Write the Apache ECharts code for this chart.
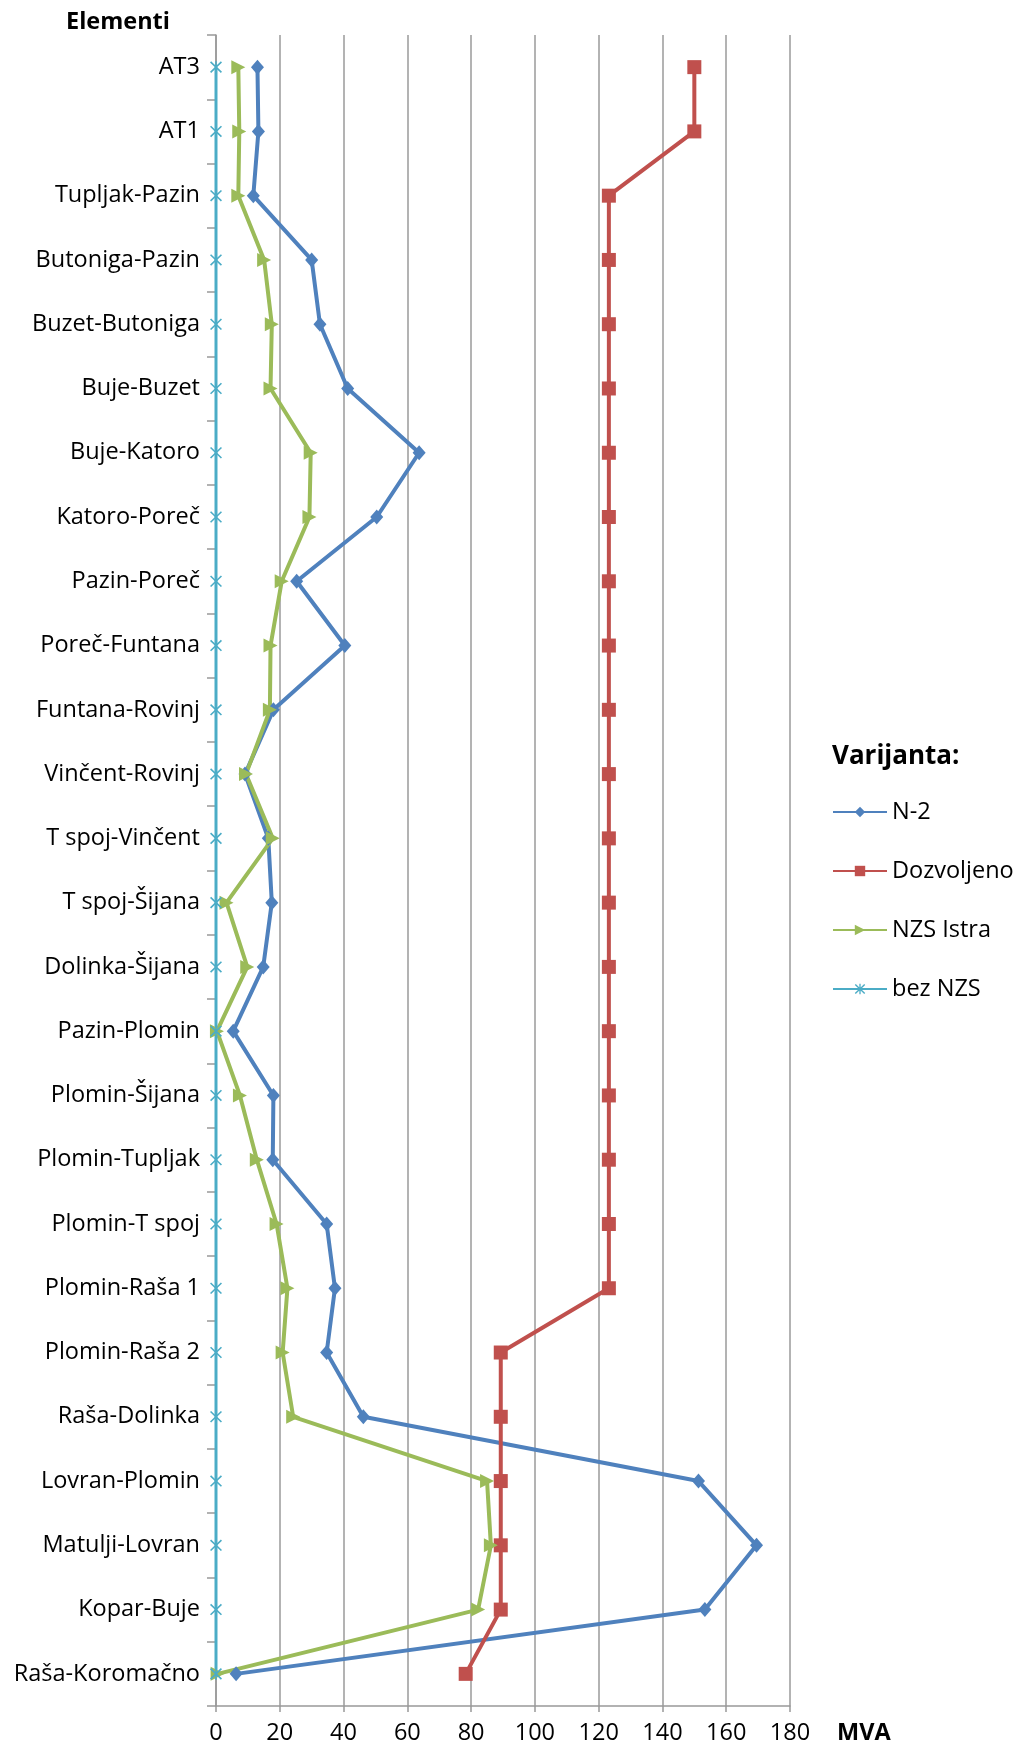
<!DOCTYPE html>
<html>
<head>
<meta charset="utf-8">
<script src="https://cdn.jsdelivr.net/npm/echarts@6.0.0/dist/echarts.min.js"></script>
<style>
  html, body { margin: 0; padding: 0; background: #fff; }
  #chart { width: 1024px; height: 1751px; }
</style>
</head>
<body>
<div id="chart"></div>
<script>
// elementi mreže (odozgo prema dolje)
var categories = ['AT3', 'AT1', 'Tupljak-Pazin', 'Butoniga-Pazin', 'Buzet-Butoniga', 'Buje-Buzet',
  'Buje-Katoro', 'Katoro-Poreč', 'Pazin-Poreč', 'Poreč-Funtana', 'Funtana-Rovinj', 'Vinčent-Rovinj',
  'T spoj-Vinčent', 'T spoj-Šijana', 'Dolinka-Šijana', 'Pazin-Plomin', 'Plomin-Šijana', 'Plomin-Tupljak',
  'Plomin-T spoj', 'Plomin-Raša 1', 'Plomin-Raša 2', 'Raša-Dolinka', 'Lovran-Plomin', 'Matulji-Lovran',
  'Kopar-Buje', 'Raša-Koromačno'];

// opterećenja u MVA
var n2 = [13, 13.3, 11.7, 30, 32.6, 41.3, 63.7, 50.4, 25.3, 40.4, 18, 9.1, 16.4, 17.5, 14.8, 5.4,
  18, 17.8, 34.7, 37.3, 34.7, 46.2, 151.3, 169.5, 153.3, 6.3];
var dozvoljeno = [150, 150, 123.2, 123.2, 123.2, 123.2, 123.2, 123.2, 123.2, 123.2, 123.2, 123.2,
  123.2, 123.2, 123.2, 123.2, 123.2, 123.2, 123.2, 123.2, 89.3, 89.3, 89.3, 89.3, 89.3, 78.3];
var nzsIstra = [7, 7.3, 7, 15.1, 17.5, 17.1, 29.7, 29.3, 20.6, 17.1, 16.9, 9.4, 17.8, 3.3, 9.8, 0.3,
  7.5, 12.8, 19, 22.4, 20.9, 24.2, 85, 86.2, 82.2, 0.5];
var bezNzs = [0, 0, 0, 0, 0, 0, 0, 0, 0, 0, 0, 0, 0, 0, 0, 0, 0, 0, 0, 0, 0, 0, 0, 0, 0, 0];

var xTicks = [0, 20, 40, 60, 80, 100, 120, 140, 160, 180];

var font = '"Open Sans", "Noto Sans", sans-serif';
var fs = 23.5;
// zvjezdica kao u Excelu
var asterisk = 'path://M4.4 0L5.6 0L5.6 10L4.4 10Z M1.1 0.2L9.8 8.9L8.9 9.8L0.2 1.1Z M8.9 0.2L9.8 1.1L1.1 9.8L0.2 8.9Z';

var myChart = echarts.init(document.getElementById('chart'));
var option = {
  animation: false,
  textStyle: { fontFamily: font },
  grid: { left: 216, right: 234, top: 35, bottom: 45, containLabel: false },
  legend: {
    orient: 'vertical',
    left: 832,
    top: 800,
    padding: 0,
    itemWidth: 54,
    itemHeight: 13,
    itemGap: 35,
    textStyle: { fontSize: fs, color: '#000', fontFamily: font, lineHeight: 21 },
    data: ['N-2', 'Dozvoljeno', 'NZS Istra', 'bez NZS']
  },
  graphic: [
    { type: 'text', left: 66, top: 10, style: { text: 'Elementi', font: 'bold 23.5px ' + font, fill: '#000' } },
    { type: 'text', left: 837, top: 1721, style: { text: 'MVA', font: 'bold 23.5px ' + font, fill: '#000' } },
    { type: 'text', left: 832, top: 744, style: { text: 'Varijanta:', font: 'bold 26px ' + font, fill: '#000' } }
  ],
  xAxis: {
    type: 'value',
    min: 0,
    max: 180,
    interval: 20,
    axisLine: { show: true, lineStyle: { color: '#999', width: 1.5 } },
    axisTick: { show: true, length: 6, lineStyle: { color: '#999', width: 1.5 } },
    axisLabel: {
      margin: 15, fontSize: fs, color: '#000', fontFamily: font,
      formatter: function (v) { return xTicks.indexOf(v) >= 0 ? String(v) : ''; }
    },
    splitLine: { show: true, lineStyle: { color: '#9a9a9a', width: 1.5 } }
  },
  yAxis: {
    type: 'category',
    inverse: true,
    data: categories,
    boundaryGap: true,
    axisLine: { show: true, lineStyle: { color: '#999', width: 1.5 } },
    axisTick: { show: true, length: 9, alignWithLabel: false, lineStyle: { color: '#999', width: 1.5 } },
    axisLabel: { margin: 16, fontSize: fs, color: '#000', fontFamily: font, interval: 0, padding: [8, 0, 0, 0] },
    splitLine: { show: false }
  },
  series: [
    {
      name: 'N-2', type: 'line', data: n2,
      symbol: 'diamond', symbolSize: [13, 15],
      itemStyle: { color: '#4F81BD' },
      lineStyle: { color: '#4F81BD', width: 4 }
    },
    {
      name: 'Dozvoljeno', type: 'line', data: dozvoljeno,
      symbol: 'rect', symbolSize: 14,
      itemStyle: { color: '#C0504D' },
      lineStyle: { color: '#C0504D', width: 4 }
    },
    {
      name: 'NZS Istra', type: 'line', data: nzsIstra,
      symbol: 'triangle', symbolSize: 14, symbolRotate: -90,
      itemStyle: { color: '#9BBB59' },
      lineStyle: { color: '#9BBB59', width: 4 }
    },
    {
      name: 'bez NZS', type: 'line', data: bezNzs,
      symbol: asterisk, symbolSize: 12,
      itemStyle: { color: '#4BACC6' },
      lineStyle: { color: '#4BACC6', width: 3 }
    }
  ]
};
myChart.setOption(option);
</script>
</body>
</html>
